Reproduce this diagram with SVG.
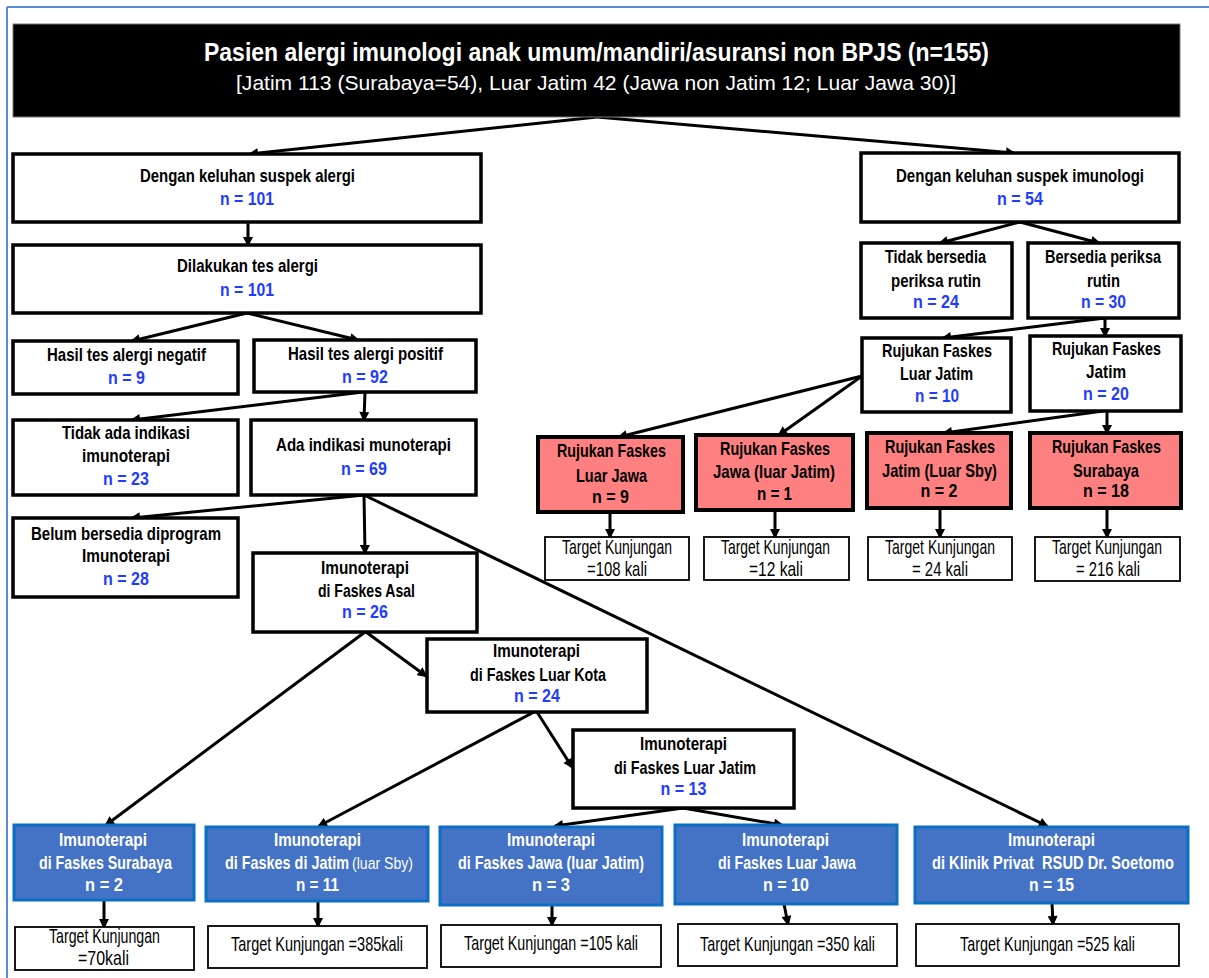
<svg xmlns="http://www.w3.org/2000/svg" width="1209" height="978" viewBox="0 0 1209 978">
<style>
text{font-family:"Liberation Sans Narrow","Liberation Sans",Arial,sans-serif;text-anchor:middle}
.b{font-weight:bold;font-size:19px;fill:#000}
.n{font-weight:bold;font-size:19px;fill:#1f3dff}
.w{font-weight:bold;font-size:19px;fill:#fff}
.t{font-weight:normal;font-size:21px;fill:#000}
.box{fill:#fff;stroke:#000;stroke-width:3.5}
.red{fill:#ff8080;stroke:#000;stroke-width:4}
.blue{fill:#4472c4;stroke:#0b6fc4;stroke-width:3}
.tg{fill:#fff;stroke:#000;stroke-width:1.8}
.c line{stroke:#000;stroke-width:3;marker-end:url(#ah)}
</style>
<defs>
<marker id="ah" viewBox="0 0 10 10" refX="8" refY="5" markerWidth="11" markerHeight="10" markerUnits="userSpaceOnUse" orient="auto"><path d="M0,0 L10,5 L0,10 z" fill="#000"/></marker>
</defs>
<rect width="1209" height="978" fill="#fff"/>
<g id="frame" stroke="#5b8bd6" stroke-width="2" fill="none">
<line x1="7" y1="7" x2="1209" y2="7"/>
<line x1="7" y1="7" x2="7" y2="978"/>
</g>

<g class="c" id="connectors">
<line x1="597" y1="117" x2="250" y2="154"/>
<line x1="597" y1="117" x2="1014" y2="153"/>
<line x1="248" y1="222" x2="248" y2="245"/>
<line x1="247" y1="313" x2="132" y2="341"/>
<line x1="247" y1="313" x2="358" y2="340"/>
<line x1="363" y1="392" x2="132" y2="420"/>
<line x1="365" y1="392" x2="364" y2="420"/>
<line x1="364" y1="495" x2="132" y2="518"/>
<line x1="364" y1="495" x2="365" y2="553"/>
<line x1="364" y1="495" x2="1047" y2="826"/>
<line x1="366" y1="632" x2="426" y2="676"/>
<line x1="365" y1="632" x2="106" y2="825"/>
<line x1="537" y1="712" x2="572" y2="767"/>
<line x1="534" y1="712" x2="319" y2="826"/>
<line x1="683" y1="808" x2="555" y2="826"/>
<line x1="683" y1="808" x2="782" y2="825"/>
<line x1="104" y1="900" x2="104" y2="927"/>
<line x1="318" y1="901" x2="318" y2="926"/>
<line x1="552" y1="905" x2="552" y2="925"/>
<line x1="784" y1="904" x2="788" y2="924"/>
<line x1="1052" y1="903" x2="1053" y2="924"/>
<line x1="1020" y1="222" x2="940" y2="243"/>
<line x1="1020" y1="222" x2="1099" y2="243"/>
<line x1="1105" y1="318" x2="943" y2="338"/>
<line x1="1105" y1="318" x2="1105" y2="336"/>
<line x1="862" y1="376" x2="619" y2="437"/>
<line x1="862" y1="376" x2="779" y2="435"/>
<line x1="1103" y1="411" x2="944" y2="433"/>
<line x1="1107" y1="411" x2="1107" y2="433"/>
<line x1="610" y1="512" x2="610" y2="537"/>
<line x1="775" y1="510" x2="775" y2="537"/>
<line x1="940" y1="508" x2="940" y2="537"/>
<line x1="1107" y1="508" x2="1107" y2="537"/>
</g>

<g id="header">
<rect x="13" y="24" width="1167" height="93" fill="#000" stroke="#777" stroke-width="1"/>
<text x="596.5" y="61" font-size="26" font-weight="bold" fill="#fff" textLength="785" lengthAdjust="spacingAndGlyphs">Pasien alergi imunologi anak umum/mandiri/asuransi non BPJS (n=155)</text>
<text x="596" y="90" font-size="21" fill="#fff" textLength="720" lengthAdjust="spacingAndGlyphs">[Jatim 113 (Surabaya=54), Luar Jatim 42 (Jawa non Jatim 12; Luar Jawa 30)]</text>
</g>

<g id="nodeA">
<rect class="box" x="13" y="154" width="468" height="68"/>
<text class="b" x="247.5" y="182" textLength="215" lengthAdjust="spacingAndGlyphs">Dengan keluhan suspek alergi</text>
<text class="n" x="247" y="205" textLength="54" lengthAdjust="spacingAndGlyphs">n = 101</text>
</g>
<g id="nodeB">
<rect class="box" x="861" y="153" width="318" height="69"/>
<text class="b" x="1020" y="182" textLength="248" lengthAdjust="spacingAndGlyphs">Dengan keluhan suspek imunologi</text>
<text class="n" x="1020" y="205" textLength="46" lengthAdjust="spacingAndGlyphs">n = 54</text>
</g>
<g id="nodeC">
<rect class="box" x="13" y="245" width="468" height="68"/>
<text class="b" x="247.5" y="272" textLength="141" lengthAdjust="spacingAndGlyphs">Dilakukan tes alergi</text>
<text class="n" x="247" y="296" textLength="54" lengthAdjust="spacingAndGlyphs">n = 101</text>
</g>
<g id="nodeD">
<rect class="box" x="13" y="341" width="225" height="53"/>
<text class="b" x="126.5" y="361" textLength="159" lengthAdjust="spacingAndGlyphs">Hasil tes alergi negatif</text>
<text class="n" x="126.5" y="384" textLength="37" lengthAdjust="spacingAndGlyphs">n = 9</text>
</g>
<g id="nodeE">
<rect class="box" x="254" y="340" width="222" height="52"/>
<text class="b" x="365.5" y="360" textLength="155" lengthAdjust="spacingAndGlyphs">Hasil tes alergi positif</text>
<text class="n" x="365" y="383" textLength="46" lengthAdjust="spacingAndGlyphs">n = 92</text>
</g>
<g id="nodeF">
<rect class="box" x="13" y="420" width="225" height="75"/>
<text class="b" x="126" y="439" textLength="128" lengthAdjust="spacingAndGlyphs">Tidak ada indikasi</text>
<text class="b" x="126" y="462" textLength="88" lengthAdjust="spacingAndGlyphs">imunoterapi</text>
<text class="n" x="126" y="485" textLength="46" lengthAdjust="spacingAndGlyphs">n = 23</text>
</g>
<g id="nodeG">
<rect class="box" x="251" y="420" width="225" height="75"/>
<text class="b" x="363.5" y="451" textLength="175" lengthAdjust="spacingAndGlyphs">Ada indikasi munoterapi</text>
<text class="n" x="364" y="475" textLength="46" lengthAdjust="spacingAndGlyphs">n = 69</text>
</g>
<g id="nodeH">
<rect class="box" x="13" y="518" width="225" height="79"/>
<text class="b" x="126" y="540" textLength="190" lengthAdjust="spacingAndGlyphs">Belum bersedia diprogram</text>
<text class="b" x="126" y="562" textLength="88" lengthAdjust="spacingAndGlyphs">Imunoterapi</text>
<text class="n" x="126" y="585" textLength="46" lengthAdjust="spacingAndGlyphs">n = 28</text>
</g>
<g id="nodeI">
<rect class="box" x="253" y="553" width="224" height="79"/>
<text class="b" x="365" y="574" textLength="88" lengthAdjust="spacingAndGlyphs">Imunoterapi</text>
<text class="b" x="366.5" y="597" textLength="97" lengthAdjust="spacingAndGlyphs">di Faskes Asal</text>
<text class="n" x="365" y="618" textLength="46" lengthAdjust="spacingAndGlyphs">n = 26</text>
</g>
<g id="nodeJ">
<rect class="box" x="427" y="639" width="220" height="73"/>
<text class="b" x="536.5" y="657" textLength="87" lengthAdjust="spacingAndGlyphs">Imunoterapi</text>
<text class="b" x="538" y="681" textLength="136" lengthAdjust="spacingAndGlyphs">di Faskes Luar Kota</text>
<text class="n" x="537" y="702" textLength="46" lengthAdjust="spacingAndGlyphs">n = 24</text>
</g>
<g id="nodeK">
<rect class="box" x="573" y="730" width="221" height="78"/>
<text class="b" x="683.5" y="750" textLength="87" lengthAdjust="spacingAndGlyphs">Imunoterapi</text>
<text class="b" x="685" y="774" textLength="142" lengthAdjust="spacingAndGlyphs">di Faskes Luar Jatim</text>
<text class="n" x="683.5" y="795" textLength="46" lengthAdjust="spacingAndGlyphs">n = 13</text>
</g>

<g id="nodeM">
<rect class="box" x="861" y="243" width="151" height="75"/>
<text class="b" x="935.5" y="263" textLength="101" lengthAdjust="spacingAndGlyphs">Tidak bersedia</text>
<text class="b" x="936" y="287" textLength="90" lengthAdjust="spacingAndGlyphs">periksa rutin</text>
<text class="n" x="936" y="308" textLength="46" lengthAdjust="spacingAndGlyphs">n = 24</text>
</g>
<g id="nodeN">
<rect class="box" x="1028" y="243" width="151" height="75"/>
<text class="b" x="1103" y="263" textLength="116" lengthAdjust="spacingAndGlyphs">Bersedia periksa</text>
<text class="b" x="1103.5" y="287" textLength="33" lengthAdjust="spacingAndGlyphs">rutin</text>
<text class="n" x="1103.5" y="308" textLength="45" lengthAdjust="spacingAndGlyphs">n = 30</text>
</g>
<g id="nodeO">
<rect class="box" x="862" y="338" width="149" height="74"/>
<text class="b" x="937" y="357" textLength="110" lengthAdjust="spacingAndGlyphs">Rujukan Faskes</text>
<text class="b" x="936.5" y="380" textLength="73" lengthAdjust="spacingAndGlyphs">Luar Jatim</text>
<text class="n" x="937" y="402" textLength="44" lengthAdjust="spacingAndGlyphs">n = 10</text>
</g>
<g id="nodeP">
<rect class="box" x="1030" y="336" width="151" height="75"/>
<text class="b" x="1106.5" y="355" textLength="109" lengthAdjust="spacingAndGlyphs">Rujukan Faskes</text>
<text class="b" x="1106" y="378" textLength="40" lengthAdjust="spacingAndGlyphs">Jatim</text>
<text class="n" x="1106" y="400" textLength="46" lengthAdjust="spacingAndGlyphs">n = 20</text>
</g>
<g id="nodeQ1">
<rect class="red" x="538" y="437" width="145" height="75"/>
<text class="b" x="611.5" y="457" textLength="109" lengthAdjust="spacingAndGlyphs">Rujukan Faskes</text>
<text class="b" x="611.5" y="482" textLength="71" lengthAdjust="spacingAndGlyphs">Luar Jawa</text>
<text class="b" x="610.5" y="503" textLength="37" lengthAdjust="spacingAndGlyphs">n = 9</text>
</g>
<g id="nodeQ2">
<rect class="red" x="696" y="435" width="157" height="75"/>
<text class="b" x="775" y="455" textLength="110" lengthAdjust="spacingAndGlyphs">Rujukan Faskes</text>
<text class="b" x="774" y="478" textLength="122" lengthAdjust="spacingAndGlyphs">Jawa (luar Jatim)</text>
<text class="b" x="774.5" y="500" textLength="35" lengthAdjust="spacingAndGlyphs">n = 1</text>
</g>
<g id="nodeQ3">
<rect class="red" x="867" y="433" width="144" height="75"/>
<text class="b" x="940" y="453" textLength="110" lengthAdjust="spacingAndGlyphs">Rujukan Faskes</text>
<text class="b" x="939.5" y="477" textLength="115" lengthAdjust="spacingAndGlyphs">Jatim (Luar Sby)</text>
<text class="b" x="939" y="497" textLength="37" lengthAdjust="spacingAndGlyphs">n = 2</text>
</g>
<g id="nodeQ4">
<rect class="red" x="1030" y="433" width="151" height="75"/>
<text class="b" x="1106.5" y="453" textLength="109" lengthAdjust="spacingAndGlyphs">Rujukan Faskes</text>
<text class="b" x="1106" y="477" textLength="66" lengthAdjust="spacingAndGlyphs">Surabaya</text>
<text class="b" x="1106" y="497" textLength="46" lengthAdjust="spacingAndGlyphs">n = 18</text>
</g>
<g id="nodeR1">
<rect class="tg" x="545" y="537" width="144" height="43"/>
<text class="t" x="617" y="554" textLength="110" lengthAdjust="spacingAndGlyphs">Target Kunjungan</text>
<text class="t" x="617" y="576" textLength="60" lengthAdjust="spacingAndGlyphs">=108 kali</text>
</g>
<g id="nodeR2">
<rect class="tg" x="704" y="537" width="145" height="43"/>
<text class="t" x="775.5" y="554" textLength="109" lengthAdjust="spacingAndGlyphs">Target Kunjungan</text>
<text class="t" x="776" y="576" textLength="54" lengthAdjust="spacingAndGlyphs">=12 kali</text>
</g>
<g id="nodeR3">
<rect class="tg" x="868" y="537" width="144" height="43"/>
<text class="t" x="940" y="554" textLength="110" lengthAdjust="spacingAndGlyphs">Target Kunjungan</text>
<text class="t" x="940" y="576" textLength="56" lengthAdjust="spacingAndGlyphs">= 24 kali</text>
</g>
<g id="nodeR4">
<rect class="tg" x="1035" y="537" width="145" height="44"/>
<text class="t" x="1107" y="554" font-size="19" textLength="110" lengthAdjust="spacingAndGlyphs">Target Kunjungan</text>
<text class="t" x="1108" y="576" textLength="64" lengthAdjust="spacingAndGlyphs">= 216 kali</text>
</g>

<g id="nodeL1">
<rect class="blue" x="14" y="825" width="180" height="75"/>
<text class="w" x="103" y="846" textLength="88" lengthAdjust="spacingAndGlyphs">Imunoterapi</text>
<text class="w" x="105.5" y="869" textLength="133" lengthAdjust="spacingAndGlyphs">di Faskes Surabaya</text>
<text class="w" x="104" y="891" textLength="38" lengthAdjust="spacingAndGlyphs">n = 2</text>
</g>
<g id="nodeL2">
<rect class="blue" x="206" y="827" width="222" height="74"/>
<text class="w" x="317.5" y="846" textLength="87" lengthAdjust="spacingAndGlyphs">Imunoterapi</text>
<text class="w" x="349" y="869" style="text-anchor:end" textLength="124" lengthAdjust="spacingAndGlyphs">di Faskes di Jatim</text>
<text x="352" y="869" style="text-anchor:start" font-size="17" fill="#fff" textLength="61" lengthAdjust="spacingAndGlyphs">(luar Sby)</text>
<text class="w" x="317.5" y="891" textLength="43" lengthAdjust="spacingAndGlyphs">n = 11</text>
</g>
<g id="nodeL3">
<rect class="blue" x="440" y="827" width="222" height="78"/>
<text class="w" x="551" y="846" textLength="88" lengthAdjust="spacingAndGlyphs">Imunoterapi</text>
<text class="w" x="551" y="869" textLength="186" lengthAdjust="spacingAndGlyphs">di Faskes Jawa (luar Jatim)</text>
<text class="w" x="551" y="891" textLength="38" lengthAdjust="spacingAndGlyphs">n = 3</text>
</g>
<g id="nodeL4">
<rect class="blue" x="675" y="825" width="222" height="79"/>
<text class="w" x="785.5" y="846" textLength="87" lengthAdjust="spacingAndGlyphs">Imunoterapi</text>
<text class="w" x="787" y="869" textLength="138" lengthAdjust="spacingAndGlyphs">di Faskes Luar Jawa</text>
<text class="w" x="786" y="891" textLength="46" lengthAdjust="spacingAndGlyphs">n = 10</text>
</g>
<g id="nodeL5">
<rect class="blue" x="915" y="827" width="273" height="76"/>
<text class="w" x="1051.5" y="846" textLength="87" lengthAdjust="spacingAndGlyphs">Imunoterapi</text>
<text class="w" x="1053" y="869" font-size="16" xml:space="preserve" textLength="242" lengthAdjust="spacingAndGlyphs">di Klinik Privat  RSUD Dr. Soetomo</text>
<text class="w" x="1051.5" y="891" textLength="45" lengthAdjust="spacingAndGlyphs">n = 15</text>
</g>
<g id="nodeT1">
<rect class="tg" x="15" y="927" width="179" height="43"/>
<text class="t" x="104.5" y="943" textLength="111" lengthAdjust="spacingAndGlyphs">Target Kunjungan</text>
<text class="t" x="103.5" y="965" textLength="51" lengthAdjust="spacingAndGlyphs">=70kali</text>
</g>
<g id="nodeT2">
<rect class="tg" x="208" y="926" width="219" height="42"/>
<text class="t" x="317" y="951" textLength="172" lengthAdjust="spacingAndGlyphs">Target Kunjungan =385kali</text>
</g>
<g id="nodeT3">
<rect class="tg" x="441" y="925" width="220" height="42"/>
<text class="t" x="551" y="950" textLength="174" lengthAdjust="spacingAndGlyphs">Target Kunjungan =105 kali</text>
</g>
<g id="nodeT4">
<rect class="tg" x="678" y="924" width="219" height="42"/>
<text class="t" x="787.5" y="951" textLength="175" lengthAdjust="spacingAndGlyphs">Target Kunjungan =350 kali</text>
</g>
<g id="nodeT5">
<rect class="tg" x="916" y="924" width="263" height="42"/>
<text class="t" x="1047.5" y="951" font-size="19" textLength="175" lengthAdjust="spacingAndGlyphs">Target Kunjungan =525 kali</text>
</g>
</svg>
